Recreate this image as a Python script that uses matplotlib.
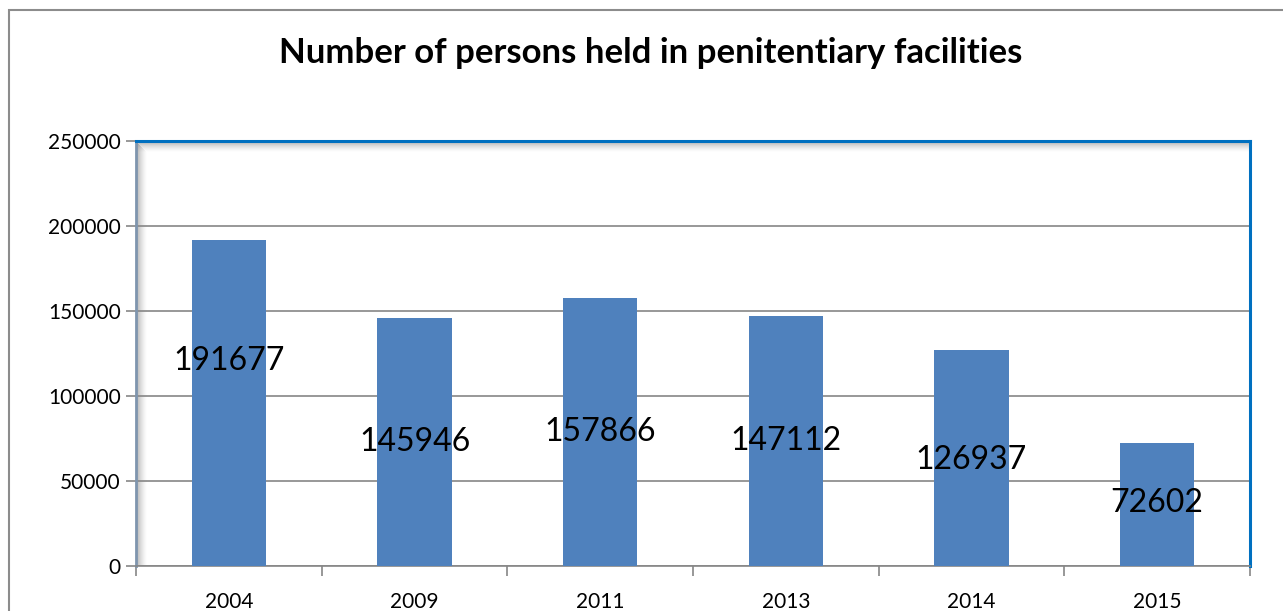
import numpy as np
import matplotlib.pyplot as plt
from matplotlib.patches import Rectangle

years = ["2004", "2009", "2011", "2013", "2014", "2015"]
persons = [191677, 145946, 157866, 147112, 126937, 72602]
# where the value labels sit, as a fraction of the bar height
label_frac = [0.63, 0.50, 0.50, 0.50, 0.49, 0.51]

bar_color = "#4F81BD"
plt.rcParams["font.family"] = ["Lato", "DejaVu Sans"]

fig = plt.figure(figsize=(12.83, 6.11), dpi=100)
ax = fig.add_axes([136 / 1283, 45 / 611, 1114 / 1283, 425 / 611])

x = np.arange(len(years))
ax.bar(x, persons, width=0.4, color=bar_color, zorder=3)
for xi, v, f in zip(x, persons, label_frac):
    ax.text(xi, v * f, str(v), ha="center", va="center", fontsize=23,
            color="black", zorder=4)

ax.set_xlim(-0.5, len(years) - 0.5)
ax.set_ylim(0, 250000)
ax.set_yticks(range(0, 250001, 50000))
ax.yaxis.grid(True, color="#868686", linewidth=1.2, zorder=0)
ax.set_xticks(x)
ax.set_xticklabels(years)
ax.set_xticks(np.arange(-0.5, len(years)), minor=True)
ax.tick_params(axis="x", which="major", length=0, labelsize=15, pad=19)
ax.tick_params(axis="x", which="minor", length=7, color="#868686", width=1.2)
ax.tick_params(axis="y", length=7, color="#868686", width=1.2, labelsize=15, pad=4)

for side in ["top", "right"]:
    ax.spines[side].set_color("#0070C0")
    ax.spines[side].set_linewidth(2.2)
ax.spines["left"].set_color("#7F95AE")
ax.spines["left"].set_linewidth(2)
ax.spines["bottom"].set_color("#868686")
ax.spines["bottom"].set_linewidth(1.2)

# soft shadow on the left and top inner edges
n = 11
for i in range(n):
    a = 0.6 * (1 - i / n) ** 1.5
    ax.add_patch(Rectangle((i / 1114, 0), 1 / 1114, 1 - (i + 1) / 425,
                           transform=ax.transAxes, color="gray", alpha=a,
                           lw=0, zorder=1))
    ax.add_patch(Rectangle((0, 1 - (i + 1) / 425), 1, 1 / 425,
                           transform=ax.transAxes, color="gray", alpha=a,
                           lw=0, zorder=1))

fig.text(651 / 1283, 1 - 53 / 611, "Number of persons held in penitentiary facilities",
         ha="center", va="center", fontsize=25, fontweight="bold")

# outer chart border
fig.add_artist(Rectangle((8.5 / 1283, -0.01), 1.1, 1 - 10 / 611 + 0.01,
                         transform=fig.transFigure, fill=False,
                         edgecolor="#8C8C8C", linewidth=1.5))

fig.savefig("out.png", dpi=100)
